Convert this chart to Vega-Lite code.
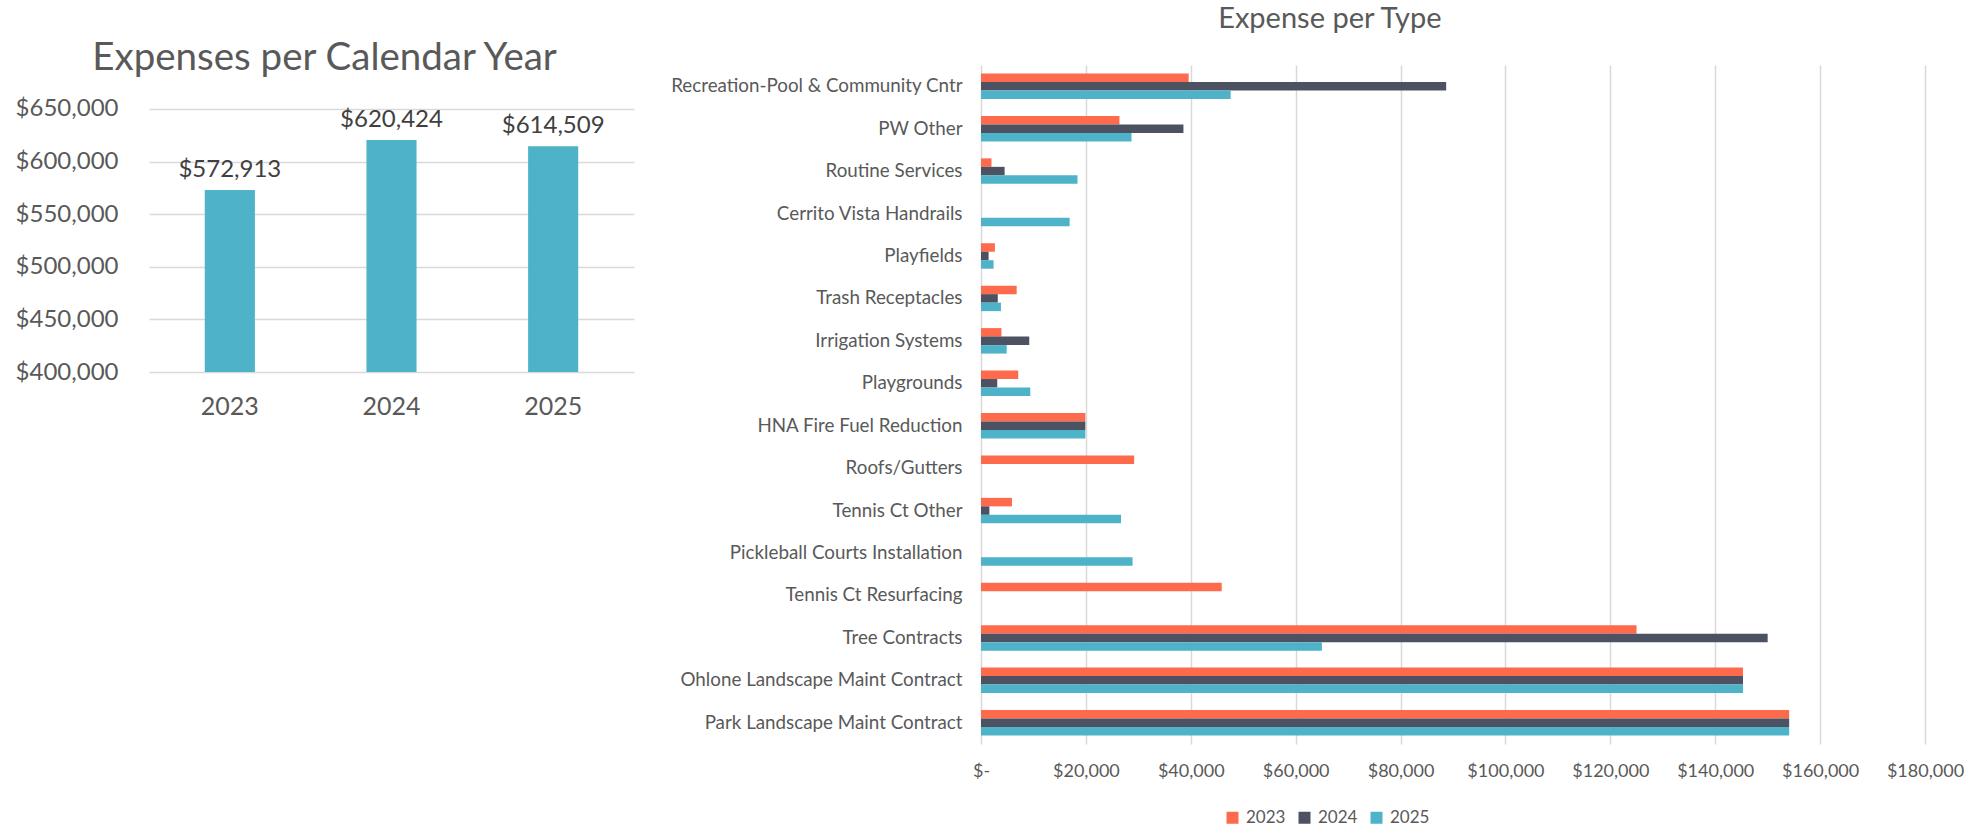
{
  "$schema": "https://vega.github.io/schema/vega-lite/v6.json",
  "background": "white",
  "padding": {"left": 15, "top": 5, "right": 0, "bottom": 0},
  "spacing": 36,
  "config": {
    "view": {"stroke": null},
    "font": "Lato",
    "axis": {"labelFont": "Lato", "labelColor": "#595959", "gridColor": "#d9d9d9", "gridWidth": 1.5, "domain": false, "ticks": false, "title": null},
    "title": {"font": "Lato", "fontWeight": "normal", "color": "#595959", "anchor": "middle", "frame": "bounds"}
  },
  "datasets": {
    "totals": [
      {"year": "2023", "total": 572913},
      {"year": "2024", "total": 620424},
      {"year": "2025", "total": 614509}
    ],
    "types": [
      {"type": "Recreation-Pool & Community Cntr", "year": "2023", "amount": 39600},
      {"type": "Recreation-Pool & Community Cntr", "year": "2024", "amount": 88700},
      {"type": "Recreation-Pool & Community Cntr", "year": "2025", "amount": 47600},
      {"type": "PW Other", "year": "2023", "amount": 26400},
      {"type": "PW Other", "year": "2024", "amount": 38600},
      {"type": "PW Other", "year": "2025", "amount": 28700},
      {"type": "Routine Services", "year": "2023", "amount": 2000},
      {"type": "Routine Services", "year": "2024", "amount": 4500},
      {"type": "Routine Services", "year": "2025", "amount": 18400},
      {"type": "Cerrito Vista Handrails", "year": "2025", "amount": 16900},
      {"type": "Playfields", "year": "2023", "amount": 2650},
      {"type": "Playfields", "year": "2024", "amount": 1450},
      {"type": "Playfields", "year": "2025", "amount": 2400},
      {"type": "Trash Receptacles", "year": "2023", "amount": 6800},
      {"type": "Trash Receptacles", "year": "2024", "amount": 3200},
      {"type": "Trash Receptacles", "year": "2025", "amount": 3800},
      {"type": "Irrigation Systems", "year": "2023", "amount": 3900},
      {"type": "Irrigation Systems", "year": "2024", "amount": 9200},
      {"type": "Irrigation Systems", "year": "2025", "amount": 4900},
      {"type": "Playgrounds", "year": "2023", "amount": 7100},
      {"type": "Playgrounds", "year": "2024", "amount": 3100},
      {"type": "Playgrounds", "year": "2025", "amount": 9400},
      {"type": "HNA Fire Fuel Reduction", "year": "2023", "amount": 19900},
      {"type": "HNA Fire Fuel Reduction", "year": "2024", "amount": 19900},
      {"type": "HNA Fire Fuel Reduction", "year": "2025", "amount": 19900},
      {"type": "Roofs/Gutters", "year": "2023", "amount": 29200},
      {"type": "Tennis Ct Other", "year": "2023", "amount": 5900},
      {"type": "Tennis Ct Other", "year": "2024", "amount": 1600},
      {"type": "Tennis Ct Other", "year": "2025", "amount": 26700},
      {"type": "Pickleball Courts Installation", "year": "2025", "amount": 28900},
      {"type": "Tennis Ct Resurfacing", "year": "2023", "amount": 45900},
      {"type": "Tree Contracts ", "year": "2023", "amount": 125000},
      {"type": "Tree Contracts ", "year": "2024", "amount": 150000},
      {"type": "Tree Contracts ", "year": "2025", "amount": 65000},
      {"type": "Ohlone Landscape Maint Contract", "year": "2023", "amount": 145300},
      {"type": "Ohlone Landscape Maint Contract", "year": "2024", "amount": 145300},
      {"type": "Ohlone Landscape Maint Contract", "year": "2025", "amount": 145300},
      {"type": "Park Landscape Maint Contract", "year": "2023", "amount": 154100},
      {"type": "Park Landscape Maint Contract", "year": "2024", "amount": 154100},
      {"type": "Park Landscape Maint Contract", "year": "2025", "amount": 154100}
    ]
  },
  "hconcat": [
    {
      "title": {"text": "Expenses per Calendar Year", "fontSize": 38.5, "offset": -13},
      "width": 485,
      "height": 307,
      "data": {"name": "totals"},
      "encoding": {
        "x": {"field": "year", "type": "ordinal", "scale": {"paddingInner": 0.69, "paddingOuter": 0.345},
              "axis": {"labelAngle": 0, "labelFontSize": 25, "labelPadding": 22, "grid": false}},
        "y": {"field": "total", "type": "quantitative",
              "scale": {"domain": [400000, 691825], "zero": false, "nice": false},
              "axis": {"values": [400000, 450000, 500000, 550000, 600000, 650000], "format": "$,.0f", "labelFontSize": 24, "labelPadding": 31}}
      },
      "layer": [
        {"mark": {"type": "bar", "color": "#4EB3C8", "clip": true}},
        {"mark": {"type": "text", "dy": -13, "baseline": "alphabetic", "fontSize": 24, "color": "#404040"},
         "encoding": {"text": {"field": "total", "type": "quantitative", "format": "$,.0f"}}}
      ]
    },
    {
      "title": {"text": "Expense per Type", "fontSize": 29, "offset": 31, "dx": 13},
      "width": 944,
      "height": 679,
      "data": {"name": "types"},
      "mark": {"type": "bar"},
      "encoding": {
        "y": {"field": "type", "type": "nominal",
              "sort": ["Recreation-Pool & Community Cntr", "PW Other", "Routine Services", "Cerrito Vista Handrails", "Playfields", "Trash Receptacles", "Irrigation Systems", "Playgrounds", "HNA Fire Fuel Reduction", "Roofs/Gutters", "Tennis Ct Other", "Pickleball Courts Installation", "Tennis Ct Resurfacing", "Tree Contracts ", "Ohlone Landscape Maint Contract", "Park Landscape Maint Contract"],
              "scale": {"paddingInner": 0.4, "paddingOuter": 0.2},
              "axis": {"labelFontSize": 18.8, "labelPadding": 19, "labelLimit": 500, "grid": false}},
        "yOffset": {"field": "year", "type": "nominal", "sort": ["2023", "2024", "2025"], "scale": {"paddingInner": 0, "paddingOuter": 0}},
        "x": {"field": "amount", "type": "quantitative",
              "scale": {"domain": [0, 180000], "nice": false},
              "axis": {"values": [0, 20000, 40000, 60000, 80000, 100000, 120000, 140000, 160000, 180000],
                       "labelExpr": "datum.value === 0 ? '$-' : format(datum.value, '$,.0f')",
                       "labelOverlap": false, "labelFlush": false,
                       "labelFontSize": 18, "labelPadding": 18}},
        "color": {"field": "year", "type": "nominal",
                  "scale": {"domain": ["2023", "2024", "2025"], "range": ["#FD6A4C", "#4D5262", "#4EB3C8"]},
                  "legend": {"orient": "none", "legendX": 1075, "legendY": 744, "direction": "horizontal", "title": null,
                             "symbolType": "square", "symbolSize": 144, "symbolStrokeWidth": 0,
                             "labelFontSize": 17, "labelColor": "#595959", "columnPadding": 10, "labelOffset": 5}}
      }
    }
  ]
}
